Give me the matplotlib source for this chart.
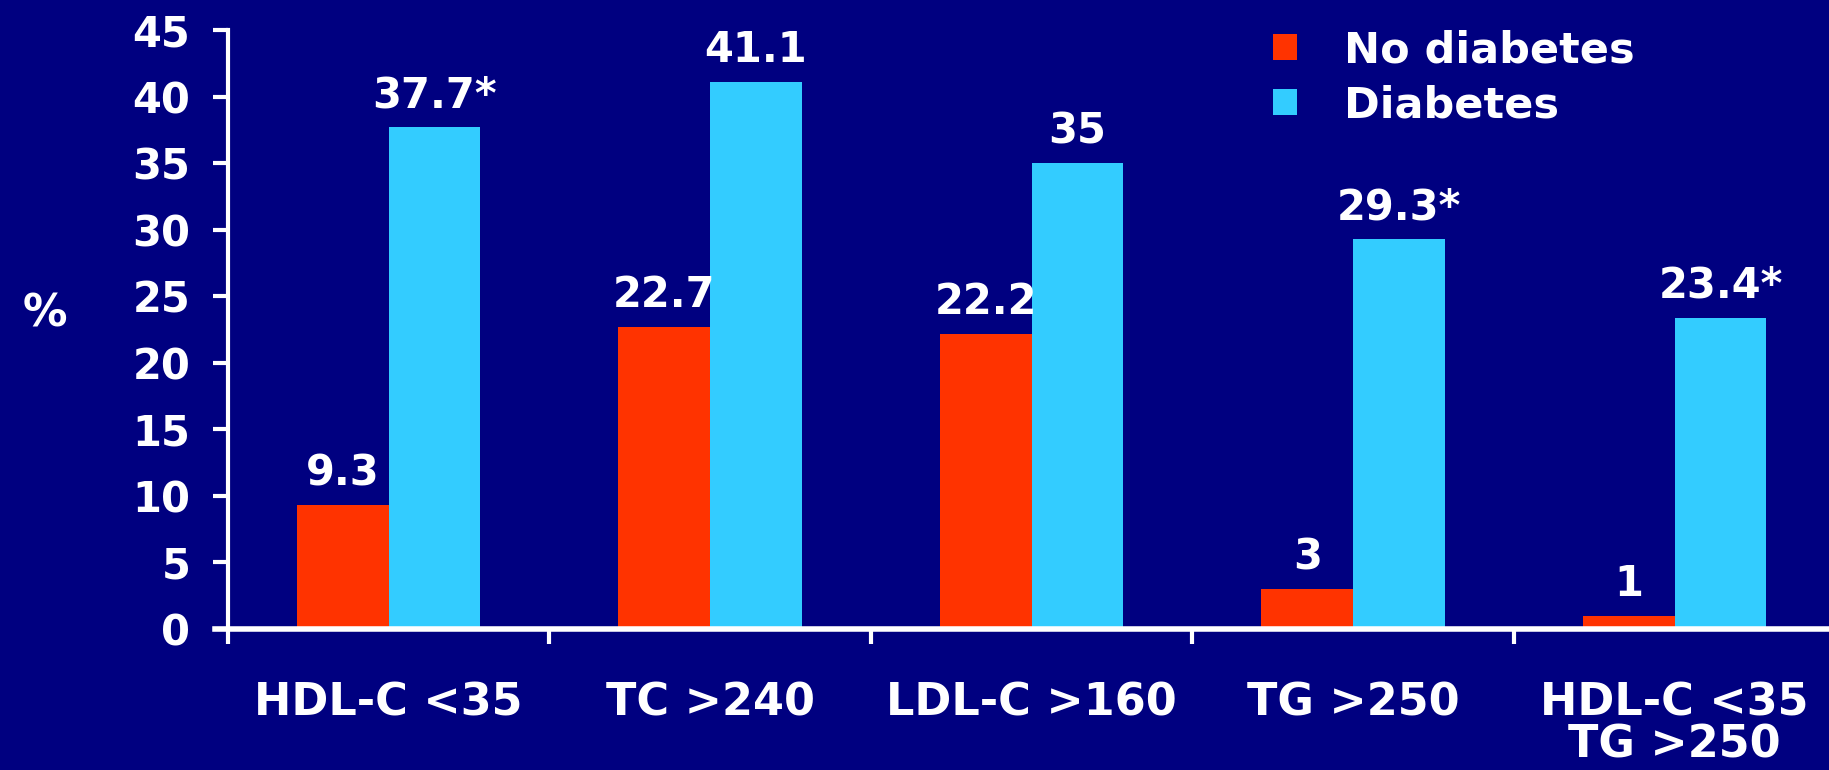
import matplotlib.pyplot as plt
from matplotlib.patches import Patch
import numpy as np

# Data ------------------------------------------------------------------------

categories = ['HDL-C <35', 'TC >240', 'LDL-C >160', 'TG >250', 'HDL-C <35\nTG >250']
no_diabetes = [9.3, 22.7, 22.2, 3, 1]
diabetes = [37.7, 41.1, 35, 29.3, 23.4]
no_diabetes_labels = ['9.3', '22.7', '22.2', '3', '1']
diabetes_labels = ['37.7*', '41.1', '35', '29.3*', '23.4*']
series_names = ['No diabetes', 'Diabetes']

# Style -----------------------------------------------------------------------

bg = '#000080'
red = '#ff3300'
blue = '#33ccff'
plt.rcParams['font.family'] = 'DejaVu Sans'
plt.rcParams['font.weight'] = 'bold'

fig = plt.figure(figsize=(18.29, 7.70), dpi=100, facecolor=bg)
# left edge sits a bit left of the y axis so the x axis line pokes out
ax = fig.add_axes([0.1175, 0.1831, 0.886, 0.7779], facecolor=bg)

x = np.arange(len(categories))
w = 0.285
ax.bar(x - w/2, no_diabetes, w, color=red, edgecolor='none')
ax.bar(x + w/2, diabetes, w, color=blue, edgecolor='none')

for xi, v, s in zip(x, no_diabetes, no_diabetes_labels):
    ax.text(xi - w/2, v + 0.8, s, ha='center', va='bottom', color='white', fontsize=30, fontweight='bold')
for xi, v, s in zip(x, diabetes, diabetes_labels):
    ax.text(xi + w/2, v + 0.8, s, ha='center', va='bottom', color='white', fontsize=30, fontweight='bold')

ax.set_xlim(-0.54, 4.5)
ax.set_ylim(0, 45)
ax.set_yticks(np.arange(0, 50, 5))
ax.tick_params(axis='y', colors='white', labelsize=30, length=11, width=3, pad=16, direction='out')

# category labels on major ticks, separators on minor ticks
ax.set_xticks(x)
ax.set_xticklabels(categories, color='white', fontsize=32, fontweight='bold', linespacing=0.95)
ax.tick_params(axis='x', which='major', length=0, pad=38)
ax.set_xticks(np.arange(-0.5, 5, 1), minor=True)
ax.tick_params(axis='x', which='minor', colors='white', length=11, width=3, direction='out')

for side in ['top', 'right']:
    ax.spines[side].set_visible(False)
ax.spines['left'].set_position(('data', -0.5))
ax.spines['left'].set_color('white')
ax.spines['left'].set_linewidth(3)
ax.spines['bottom'].set_color('white')
ax.spines['bottom'].set_linewidth(4)

ax.set_ylabel('%', rotation=0, color='white', fontsize=32, fontweight='bold')
ax.yaxis.set_label_coords(-0.105, 0.49)

handles = [Patch(facecolor=red, edgecolor='none'), Patch(facecolor=blue, edgecolor='none')]
leg = ax.legend(handles, series_names, loc='upper left', bbox_to_anchor=(0.675, 1.012), bbox_transform=fig.transFigure,
                frameon=False, fontsize=31, handlelength=0.55, handleheight=0.55,
                handletextpad=1.1, labelspacing=0.3)
for t in leg.get_texts():
    t.set_color('white')

plt.savefig('out.png', facecolor=bg)
